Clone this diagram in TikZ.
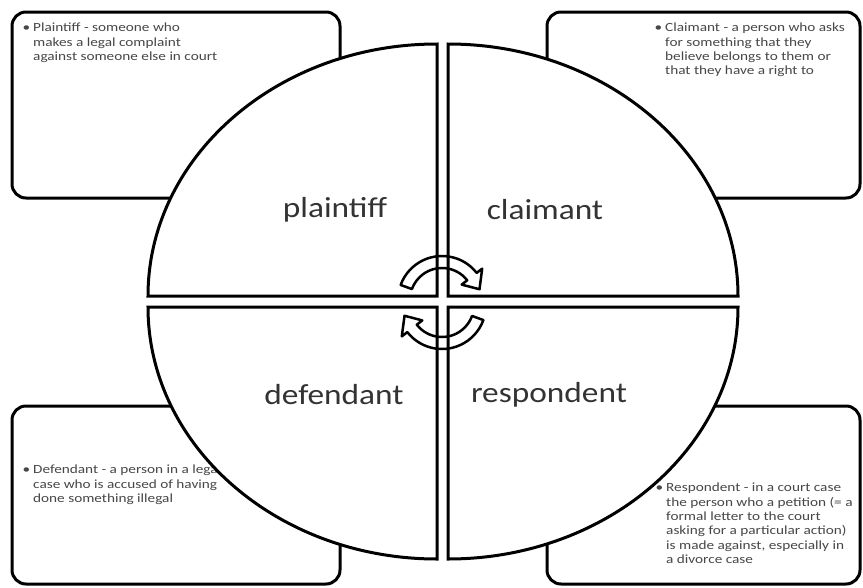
\documentclass[tikz,border=0pt]{standalone}
\usepackage{fontspec}
\setmainfont{Carlito}
\newfontfamily\stretchfont[FakeStretch=1.15]{Carlito}
\newfontfamily\notefont[FakeStretch=1.22]{Carlito}
\begin{document}
\begin{tikzpicture}[x=1pt,y=-1pt,
  infobox/.style={draw=black,line width=3pt,rounded corners=14pt,fill=white},
  quarter/.style={draw=black,line width=3pt,fill=white,line join=miter},
  biglabel/.style={font=\stretchfont\fontsize{29}{34}\selectfont,text=black!80,inner sep=0pt},
  note/.style={font=\notefont\fontsize{12.5}{14.3}\selectfont,text=black!72,align=left,anchor=north west,inner sep=0pt},
  turn/.style={draw=black,line width=2.5pt,line join=round}]
\useasboundingbox[fill=white] (0,0) rectangle (863,587);

% corner boxes
\draw[infobox] (12,12) rectangle (340,198);
\draw[infobox] (547,12) rectangle (860,198);
\draw[infobox] (12,406) rectangle (340,584);
\draw[infobox] (547,406) rectangle (860,584);

% notes
\node[note] (plaintiffnote) at (33,23) {\llap{•\hspace{3pt}}Plaintiff - someone who\\makes a legal complaint\\against someone else in court};
\node[note] (claimantnote) at (665,23) {\llap{•\hspace{3pt}}Claimant - a person who asks\\for something that they\\believe belongs to them or\\that they have a right to};
\node[note] (defendantnote) at (33,465) {\llap{•\hspace{3pt}}Defendant - a person in a legal\\case who is accused of having\\done something illegal};
\node[note] (respondentnote) at (666,483) {\llap{•\hspace{3pt}}Respondent - in a court case\\the person who a petition (= a\\formal letter to the court\\asking for a particular action)\\is made against, especially in\\a divorce case};

% pie quarters
\draw[quarter] (437,296) -- (148,296) arc[start angle=180,end angle=270,x radius=289,y radius=252] -- cycle;
\draw[quarter] (448,296) -- (448,44) arc[start angle=270,end angle=360,x radius=290,y radius=252] -- cycle;
\draw[quarter] (437,307) -- (148,307) arc[start angle=180,end angle=90,x radius=289,y radius=252] -- cycle;
\draw[quarter] (448,307) -- (738,307) arc[start angle=0,end angle=90,x radius=290,y radius=252] -- cycle;

% labels
\node[biglabel] (plaintiff) at (335,210) {plaintiff};
\node[biglabel] (claimant) at (545,210) {claimant};
\node[biglabel] (defendant) at (334,395) {defendant};
\node[biglabel] (respondent) at (549,395) {respondent};

% circular arrows
\begin{scope}[shift={(442,300)}]
\draw[turn] (200:44) arc[start angle=200,end angle=322,radius=44] -- (322:51) -- (344:39) -- (322:25) -- (322:32) arc[start angle=322,end angle=200,radius=32] -- cycle;
\end{scope}
\begin{scope}[shift={(442,305)}]
\draw[turn] (20:44) arc[start angle=20,end angle=142,radius=44] -- (142:51) -- (164:39) -- (142:25) -- (142:32) arc[start angle=142,end angle=20,radius=32] -- cycle;
\end{scope}
\end{tikzpicture}
\end{document}
